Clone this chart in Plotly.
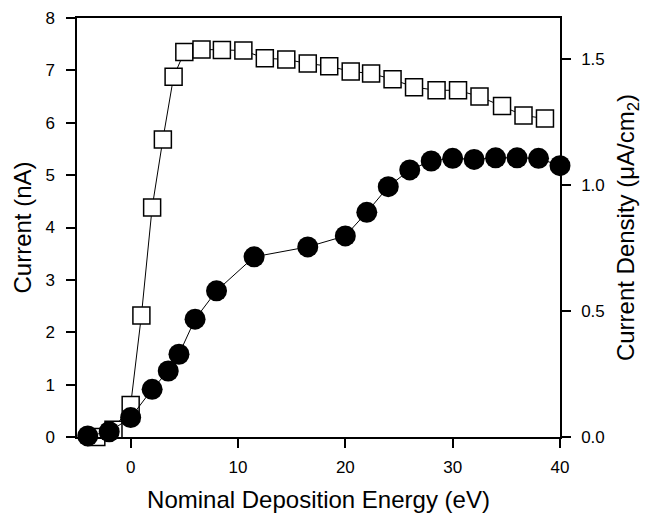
import plotly.graph_objects as go

# Open squares: current (nA)
sq_x = [-3.2, -1.6, 0, 1, 2, 3, 4, 5, 6.6, 8.5, 10.5, 12.5, 14.5, 16.5, 18.5, 20.5,
        22.4, 24.4, 26.4, 28.5, 30.5, 32.5, 34.6, 36.6, 38.6]
sq_y = [0.0, 0.14, 0.61, 2.32, 4.38, 5.68, 6.88, 7.35, 7.40, 7.39, 7.38, 7.23, 7.21,
        7.13, 7.08, 6.98, 6.94, 6.83, 6.68, 6.62, 6.62, 6.50, 6.32, 6.14, 6.08]

# Filled circles: current (nA)
ci_x = [-4, -2, 0, 2, 3.5, 4.5, 6, 8, 11.5, 16.5, 20, 22, 24, 26, 28, 30, 32, 34, 36, 38, 40]
ci_y = [0.02, 0.1, 0.37, 0.91, 1.26, 1.58, 2.25, 2.79, 3.44, 3.63, 3.84, 4.29, 4.78,
        5.10, 5.27, 5.32, 5.30, 5.33, 5.33, 5.32, 5.18]

x_ticks = [0, 10, 20, 30, 40]
y_ticks = [0, 1, 2, 3, 4, 5, 6, 7, 8]
y2_ticks = [0.0, 0.5, 1.0, 1.5]

font = "Liberation Sans, Arial, sans-serif"

fig = go.Figure()
fig.add_trace(go.Scatter(
    x=sq_x, y=sq_y, mode="lines+markers",
    line=dict(color="black", width=1),
    marker=dict(symbol="square", size=17, color="white",
                line=dict(color="black", width=1.5)),
    showlegend=False, cliponaxis=False))
fig.add_trace(go.Scatter(
    x=ci_x, y=ci_y, mode="lines+markers",
    line=dict(color="black", width=1),
    marker=dict(symbol="circle", size=21, color="black",
                line=dict(color="black", width=0)),
    showlegend=False, cliponaxis=False))
fig.add_trace(go.Scatter(x=[None], y=[None], yaxis="y2", showlegend=False,
                         hoverinfo="skip"))

axis_common = dict(showgrid=False, zeroline=False, showline=True, linecolor="black",
                   linewidth=1.5, ticks="outside", ticklen=9, tickwidth=1.5,
                   tickcolor="black", automargin=False,
                   tickfont=dict(family=font, size=17, color="black"))

fig.update_layout(
    width=649, height=514,
    margin=dict(l=69, r=97, t=10, b=85),
    paper_bgcolor="white", plot_bgcolor="white",
    font=dict(family=font, color="black"),
    xaxis=dict(range=[-5, 40], tickvals=x_ticks, mirror=True, ticklabelstandoff=5,
               title=dict(text="Nominal Deposition Energy (eV)",
                          font=dict(family=font, size=24), standoff=15),
               **axis_common),
    yaxis=dict(range=[0, 8], tickvals=y_ticks, ticklabelstandoff=8,
               title=dict(text="Current (nA)", font=dict(family=font, size=24),
                          standoff=7),
               **axis_common),
    yaxis2=dict(range=[0, 1.663], tickvals=y2_ticks, tickformat=".1f",
                overlaying="y", side="right", ticklabelstandoff=7,
                title=dict(text="Current Density (μA/cm<sub>2</sub>)",
                           font=dict(family=font, size=24), standoff=13),
                **axis_common),
)

fig.write_html("out.html")
